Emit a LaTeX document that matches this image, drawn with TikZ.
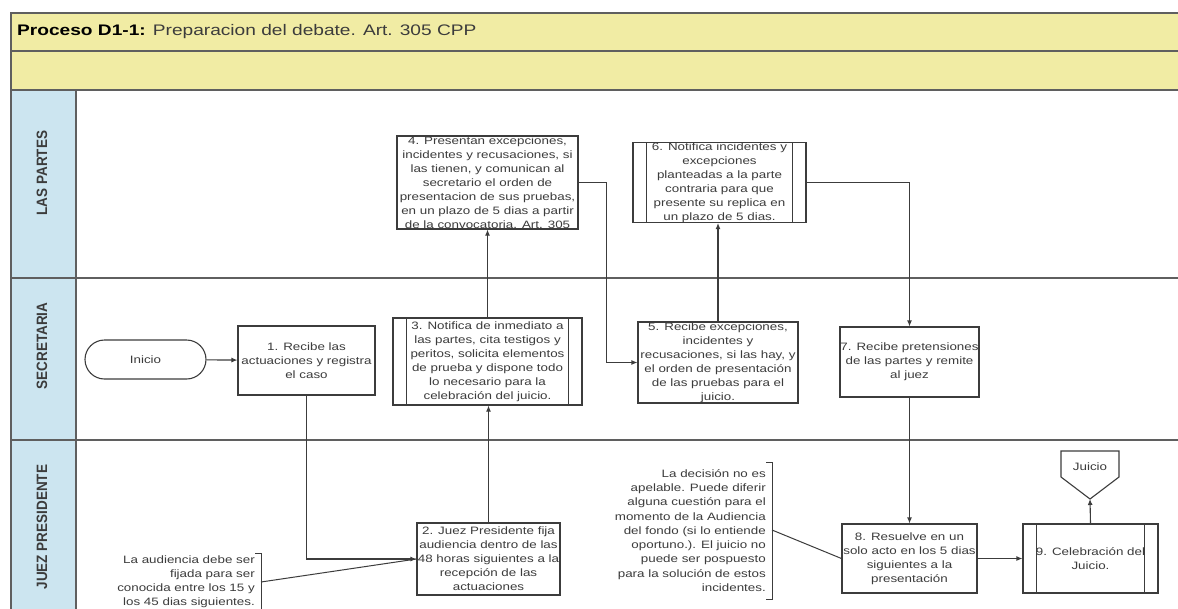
\documentclass[tikz,border=0pt]{standalone}
\usepackage{fontspec}
\setmainfont{Liberation Sans}[FakeStretch=1.25]
\newfontfamily\lanefont{Liberation Sans}[FakeStretch=0.9]
\usetikzlibrary{arrows.meta}
\definecolor{titlebg}{RGB}{241,236,164}
\definecolor{lanebg}{RGB}{204,229,240}
\definecolor{edge}{RGB}{60,60,60}
\definecolor{framec}{RGB}{95,95,95}
\definecolor{ink}{RGB}{60,60,60}

\begin{document}
\begin{tikzpicture}[x=1pt,y=-1pt,
  txt/.style={text=ink, font=\fontsize{10.7}{14}\selectfont},
  box/.style={txt, draw=edge, line width=1.1pt, fill=white, inner sep=0pt, align=center},
  predef/.style={box, path picture={
      \draw[edge, line width=1pt]
        ([xshift=13.5pt]path picture bounding box.north west) -- ([xshift=13.5pt]path picture bounding box.south west)
        ([xshift=-13.5pt]path picture bounding box.north east) -- ([xshift=-13.5pt]path picture bounding box.south east);}},
  note/.style={txt, inner sep=0pt, align=right, anchor=east},
  bracket/.style={draw=edge, line width=1pt},
  flow/.style={draw=edge, line width=1.1pt, -{Latex[length=6pt,width=5pt]}},
  link/.style={draw=edge, line width=1pt},
  lanelabel/.style={rotate=90, text=ink, font=\fontsize{15}{15}\selectfont\lanefont\bfseries},
  rule/.style={draw=framec, line width=1.2pt}
]
\useasboundingbox (0,0) rectangle (1178,608);
\fill[white] (0,0) rectangle (1178,608);
\clip (0,0) rectangle (1178,608);

% pool header and lane label column
\fill[titlebg] (11,13) rectangle (1182,90);
\fill[lanebg] (11,90) rectangle (76,612);
\draw[rule] (1182,13) -- (11,13) -- (11,612);
\draw[rule] (11,51) -- (1182,51);
\draw[rule] (11,90) -- (1182,90);
\draw[rule] (76,90) -- (76,612);
\draw[rule] (11,278) -- (1182,278);
\draw[rule] (11,440) -- (1182,440);

\node[anchor=west, inner sep=0pt, text=ink, font=\fontsize{15.3}{18}\selectfont] (title) at (17,32)
  {\textbf{\color{black}Proceso D1-1:} Preparacion del debate. Art. 305 CPP};

\node[lanelabel] (lanepartes) at (42,173) {LAS PARTES};
\node[lanelabel] (lanesec) at (42,346) {SECRETARIA};
\node[lanelabel] (lanejuez) at (42,527) {JUEZ PRESIDENTE};

% process steps
\node[box, rounded corners=19.5pt, minimum width=121pt, minimum height=39pt] (inicio) at (145.5,359.5) {Inicio};
\node[box, minimum width=137pt, minimum height=69pt] (b1) at (306.5,360.5)
  {1. Recibe las\\actuaciones y registra\\el caso};
\node[box, minimum width=143pt, minimum height=72pt] (b2) at (488.5,559)
  {2. Juez Presidente fija\\audiencia dentro de las\\48 horas siguientes a la\\recepción de las\\actuaciones};
\node[predef, minimum width=189pt, minimum height=87pt] (b3) at (487.5,361.5)
  {3. Notifica de inmediato a\\las partes, cita testigos y\\peritos, solicita elementos\\de prueba y dispone todo\\lo necesario para la\\celebración del juicio.};
\node[box, minimum width=181pt, minimum height=93pt] (b4) at (487.5,182.5)
  {4. Presentan excepciones,\\incidentes y recusaciones, si\\las tienen, y comunican al\\secretario el orden de\\presentacion de sus pruebas,\\en un plazo de 5 dias a partir\\de la convocatoria. Art. 305};
\node[box, minimum width=160pt, minimum height=81pt] (b5) at (718,362.5)
  {5. Recibe excepciones,\\incidentes y\\recusaciones, si las hay, y\\el orden de presentación\\de las pruebas para el\\juicio.};
\node[predef, minimum width=173pt, minimum height=73pt] (b6) at (719.5,182.5)
  {6. Notifica incidentes y\\excepciones\\planteadas a la parte\\contraria para que\\presente su replica en\\un plazo de 5 dias.};
\node[box, minimum width=139pt, minimum height=70pt] (b7) at (909.5,362)
  {7. Recibe pretensiones\\de las partes y remite\\al juez};
\node[box, minimum width=135pt, minimum height=69pt] (b8) at (909.5,558.5)
  {8. Resuelve en un\\solo acto en los 5 dias\\siguientes a la\\presentación};
\node[predef, minimum width=135pt, minimum height=69pt] (b9) at (1090.5,558.5)
  {9. Celebración del\\Juicio.};

% off-page connector
\draw[edge, line width=1.1pt, fill=white] (1061,451) -- (1119,451) -- (1119,477) -- (1090,499) -- (1061,477) -- cycle;
\node[txt, inner sep=0pt] (juicio) at (1090,467) {Juicio};
\coordinate (jtip) at (1090,499);

% annotations
\draw[bracket] (255,553) -- (261,553) -- (261,612);
\coordinate (n1b) at (261,582);
\node[note] (note1) at (255,582)
  {La audiencia debe ser\\fijada para ser\\conocida entre los 15 y\\los 45 dias siguientes.};
\draw[bracket] (766,462) -- (772,462) -- (772,599) -- (766,599);
\coordinate (n2b) at (772,530);
\node[note, font=\fontsize{10.7}{14.3}\selectfont] (note2) at (766,530.5)
  {La decisión no es\\apelable. Puede diferir\\alguna cuestión para el\\momento de la Audiencia\\del fondo (si lo entiende\\oportuno.). El juicio no\\puede ser pospuesto\\para la solución de estos\\incidentes.};

% connectors
\draw[flow] (inicio) -- (b1);
\draw[flow] (b1.south) |- (b2.west);
\draw[link] (n1b) -- (b2.west);
\draw[flow] (b2.north) -- (b2.north |- b3.south);
\draw[flow] (b3.north) -- (b4.south);
\draw[flow] (b4.east) -- ++(28,0) |- (b5.west);
\draw[flow] (b5.north) -- (b5.north |- b6.south);
\draw[flow] (b6.east) -| (b7.north);
\draw[flow] (b7.south) -- (b8.north);
\draw[link] (n2b) -- (b8.west);
\draw[flow] (b8.east) -- (b9.west);
\draw[flow] (b9.north) -- (jtip);
\end{tikzpicture}
\end{document}
